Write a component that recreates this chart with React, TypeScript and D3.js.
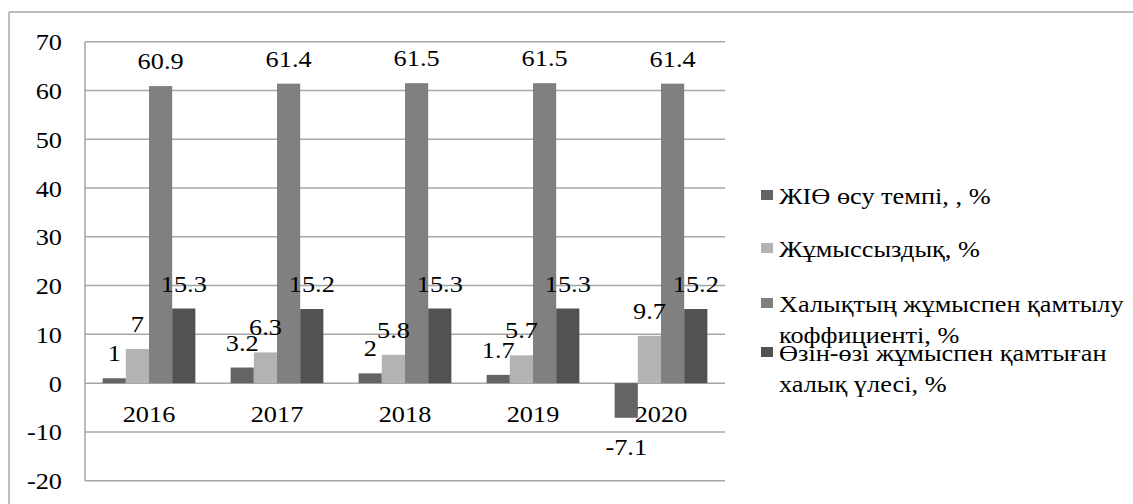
import React from "react";
import * as d3 from "d3";

const categories = ["2016", "2017", "2018", "2019", "2020"];
const gdpGrowth = [1, 3.2, 2, 1.7, -7.1];
const unemployment = [7, 6.3, 5.8, 5.7, 9.7];
const employmentRate = [60.9, 61.4, 61.5, 61.5, 61.4];
const selfEmployed = [15.3, 15.2, 15.3, 15.3, 15.2];
const yTicks = [-20, -10, 0, 10, 20, 30, 40, 50, 60, 70];

const seriesNames = [
  ["ЖІӨ өсу темпі, , %"],
  ["Жұмыссыздық, %"],
  ["Халықтың жұмыспен қамтылу", "коффициенті, %"],
  ["Өзін-өзі жұмыспен қамтыған", "халық үлесі, %"],
];
const seriesValues = [gdpGrowth, unemployment, employmentRate, selfEmployed];
const seriesColors = ["#646464", "#b3b3b3", "#808080", "#525252"];

const FONT = "'Liberation Serif', 'DejaVu Serif', serif";
const FS = 23.5;
const SX = 1.12;

function T({ x, y, anchor = "start", children }: any) {
  return (
    <text
      transform={`translate(${x},${y}) scale(${SX},1)`}
      textAnchor={anchor}
      style={{ fontFamily: FONT, fontSize: FS }}
      fill="#000"
    >
      {children}
    </text>
  );
}

export default function App() {
  const W = 1133;
  const H = 504;
  const left = 85;
  const right = 725;
  const y = d3.scaleLinear().domain([-20, 70]).range([480.7, 41.7]);
  const x = d3.scaleBand<string>().domain(categories).range([left, right]).padding(0);
  const inner = d3
    .scaleBand<number>()
    .domain([0, 1, 2, 3])
    .range([0, x.bandwidth()])
    .paddingInner(0)
    .paddingOuter(0.76);

  const legendY = [195, 248, 303, 352];

  return (
    <svg
      width={W}
      height={H}
      style={{ position: "absolute", left: 0, top: 0, background: "#fff" }}
    >
      <rect x={0} y={0} width={W} height={H} fill="#fff" />
      {/* outer border (top & left visible) */}
      <line x1={9} y1={12} x2={W + 5} y2={12} stroke="#a6a6a6" strokeWidth={1.5} />
      <line x1={9} y1={12} x2={9} y2={H + 5} stroke="#a6a6a6" strokeWidth={1.5} />

      {/* gridlines */}
      {yTicks.map((t) => (
        <line
          key={t}
          x1={left}
          x2={right}
          y1={y(t)}
          y2={y(t)}
          stroke="#a6a6a6"
          strokeWidth={1.5}
        />
      ))}
      <line x1={left} x2={left} y1={y(70)} y2={y(-20)} stroke="#a6a6a6" strokeWidth={1.5} />

      {/* y tick labels */}
      {yTicks.map((t) => (
        <T key={t} x={62} y={y(t) + 8.5} anchor="end">
          {t}
        </T>
      ))}

      {/* x labels */}
      {categories.map((c) => (
        <T key={c} x={(x(c) as number) + x.bandwidth() / 2} y={422} anchor="middle">
          {c}
        </T>
      ))}

      {/* bars */}
      {seriesValues.map((vals, si) =>
        vals.map((v, ci) => {
          const bx = (x(categories[ci]) as number) + (inner(si) as number);
          const y0 = y(0);
          const yv = y(v);
          return (
            <rect
              key={`${si}-${ci}`}
              x={bx}
              y={Math.min(y0, yv)}
              width={inner.bandwidth()}
              height={Math.abs(yv - y0)}
              fill={seriesColors[si]}
            />
          );
        })
      )}

      {/* data labels */}
      {seriesValues.map((vals, si) =>
        vals.map((v, ci) => {
          const cx =
            (x(categories[ci]) as number) + (inner(si) as number) + inner.bandwidth() / 2;
          const ly = v >= 0 ? y(v) - 17 : y(v) + 37;
          return (
            <T key={`l${si}-${ci}`} x={cx} y={ly} anchor="middle">
              {String(v)}
            </T>
          );
        })
      )}

      {/* legend */}
      {seriesNames.map((lines, i) => (
        <g key={i}>
          <rect x={761} y={legendY[i] - 5} width={12} height={10} fill={seriesColors[i]} />
          {lines.map((ln, li) => (
            <T key={li} x={779} y={legendY[i] + 9 + li * 31}>
              {ln}
            </T>
          ))}
        </g>
      ))}
    </svg>
  );
}
